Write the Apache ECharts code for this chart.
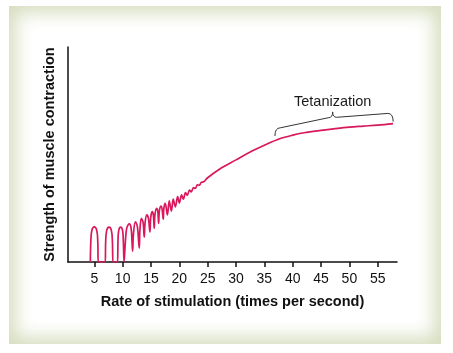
<!DOCTYPE html>
<html>
<head>
<meta charset="utf-8">
<script src="https://cdn.jsdelivr.net/npm/echarts@6/dist/echarts.min.js"></script>
<style>
  html, body { margin: 0; padding: 0; background: #fff; }
  #frame {
    position: absolute; left: 9px; top: 6px; width: 432px; height: 338px;
    background: #fff;
    box-shadow: inset 0 0 18px 7px #d6debf;
  }
  #chart { position: absolute; left: 0; top: 0; width: 453px; height: 353px; }
</style>
</head>
<body>
<div id="frame"></div>
<div id="chart"></div>
<script>
// rate of stimulation (per second) vs strength of contraction (arbitrary units, 0-100)
const tickValues = [5, 10, 15, 20, 25, 30, 35, 40, 45, 50, 55];

const strength = [
  // separate twitches
  [4.3, 0], [4.38, 9], [4.55, 14.5], [5.0, 16.3], [5.45, 14.5], [5.62, 9], [5.7, 0],
  [6.93, 0], [7.0, 9], [7.17, 14.5], [7.6, 16.2], [8.03, 14.5], [8.2, 9], [8.3, 0],
  [9.1, 0], [9.17, 9], [9.3, 14.5], [9.65, 16.2], [10.0, 14.5], [10.13, 9], [10.25, 0],
  // summation
  [10.45, 8], [10.7, 15.5], [11.15, 17.7], [11.5, 15.5], [11.76, 5.1],
  [11.9, 13], [12.25, 18.7], [12.6, 16.5], [12.93, 6.5],
  [13.05, 15], [13.3, 20.3], [13.6, 18.5], [13.81, 11.6],
  [13.95, 18], [14.25, 21.9], [14.55, 20.3], [14.81, 14.0],
  [14.95, 20.5], [15.2, 23.4], [15.42, 21.8], [15.57, 15.7],
  [15.7, 22], [16.0, 25.0], [16.2, 23.6], [16.35, 18.0],
  [16.47, 23.5], [16.75, 26.0], [16.95, 24.8], [17.16, 19.9],
  [17.27, 25], [17.51, 27.3], [17.9, 21.9],
  [18.22, 28.4], [18.6, 23.7],
  [18.92, 29.2], [19.3, 25.6],
  [19.7, 30.4], [20.0, 27.4],
  [20.4, 31.2], [20.7, 29.2],
  [21.1, 32.3], [21.4, 31.0],
  [21.8, 33.4], [22.1, 32.6],
  [22.5, 34.6], [22.8, 34.2],
  [23.2, 35.9], [23.5, 35.7],
  [23.9, 37.1], [24.2, 37.2],
  // fused / tetanus
  [25.0, 39.2], [27.2, 43.4], [30.0, 47.5], [32.5, 51.2], [35.0, 54.3],
  [37.7, 57.3], [40.0, 59.0], [42.0, 60.1], [45.0, 61.2], [47.5, 62.0],
  [50.0, 62.7], [52.5, 63.2], [55.0, 63.7], [57.7, 64.4]
];

// brace over the tetanus plateau: left hook, left corner, inner left, tip, inner right, right corner, right hook
const bracePoints = [
  [36.87, 58.6], [37.45, 62.4], [46.27, 67.1], [47.05, 69.8],
  [47.75, 67.3], [57.14, 69.1], [57.72, 65.3]
];
const braceLabel = 'Tetanization';
const braceLabelPos = [47.05, 74.3];

const FONT = '"Liberation Sans", Arial, sans-serif';

const chart = echarts.init(document.getElementById('chart'), null, { renderer: 'canvas' });

function renderBrace(params, api) {
  const p = bracePoints.map(function (d) { return api.coord(d); });
  const path =
    'M' + p[0][0] + ',' + p[0][1] +
    ' Q' + p[0][0] + ',' + p[1][1] + ' ' + (p[1][0] + 2) + ',' + p[1][1] +
    ' L' + p[2][0] + ',' + p[2][1] +
    ' Q' + p[3][0] + ',' + p[2][1] + ' ' + p[3][0] + ',' + p[3][1] +
    ' Q' + p[3][0] + ',' + p[4][1] + ' ' + p[4][0] + ',' + p[4][1] +
    ' L' + (p[5][0] - 2) + ',' + p[5][1] +
    ' Q' + p[6][0] + ',' + p[5][1] + ' ' + p[6][0] + ',' + p[6][1];
  const t = api.coord(braceLabelPos);
  return {
    type: 'group',
    children: [
      {
        type: 'path',
        shape: { pathData: path },
        style: { fill: 'none', stroke: '#333', lineWidth: 1 }
      },
      {
        type: 'text',
        x: t[0], y: t[1],
        style: {
          text: braceLabel, fill: '#1a1a1a', font: '14.5px ' + FONT,
          align: 'center', verticalAlign: 'middle'
        }
      }
    ]
  };
}

chart.setOption({
  backgroundColor: 'transparent',
  animation: false,
  grid: { left: 68, right: 56, top: 47, bottom: 91, containLabel: false },
  xAxis: {
    type: 'value',
    min: 0.36,
    max: 58.4,
    name: 'Rate of stimulation (times per second)',
    nameLocation: 'middle',
    nameGap: 32,
    nameTextStyle: { fontFamily: FONT, fontSize: 14.5, fontWeight: 'bold', color: '#111' },
    axisLine: { show: true, lineStyle: { color: '#111', width: 1.5 } },
    axisTick: { show: true, length: 5, customValues: tickValues, lineStyle: { color: '#111', width: 1.5 } },
    axisLabel: { customValues: tickValues, margin: 10, fontFamily: FONT, fontSize: 14, color: '#111' },
    splitLine: { show: false }
  },
  yAxis: {
    type: 'value',
    min: 0,
    max: 100,
    name: 'Strength of muscle contraction',
    nameLocation: 'middle',
    nameRotate: 90,
    nameGap: 11,
    nameTextStyle: { fontFamily: FONT, fontSize: 14.5, fontWeight: 'bold', color: '#111' },
    axisLine: { show: true, lineStyle: { color: '#111', width: 1.5 } },
    axisTick: { show: false },
    axisLabel: { show: false },
    splitLine: { show: false }
  },
  series: [
    {
      type: 'line',
      data: strength,
      smooth: 0.35,
      symbol: 'none',
      lineStyle: { color: '#d8175c', width: 1.7 },
      z: 3
    },
    {
      type: 'custom',
      renderItem: renderBrace,
      data: [[47, 70]],
      clip: false,
      silent: true,
      z: 4
    }
  ]
});
</script>
</body>
</html>
